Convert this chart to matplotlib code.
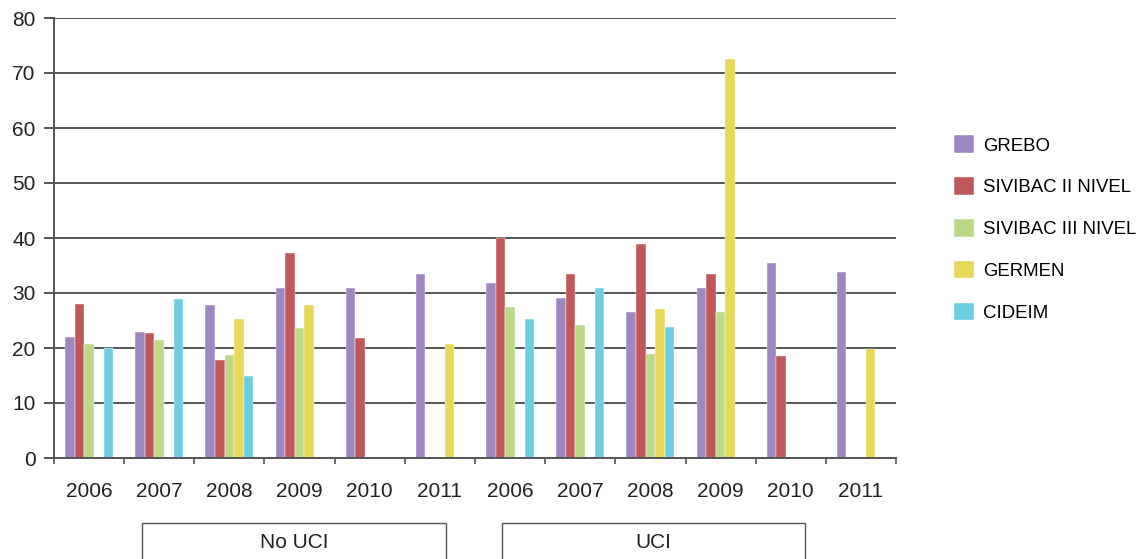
import matplotlib
matplotlib.use("Agg")
import matplotlib.pyplot as plt
import numpy as np
from matplotlib.patches import Rectangle

years = ["2006", "2007", "2008", "2009", "2010", "2011",
         "2006", "2007", "2008", "2009", "2010", "2011"]
groups = ["No UCI", "UCI"]
series_names = ["GREBO", "SIVIBAC II NIVEL", "SIVIBAC III NIVEL", "GERMEN", "CIDEIM"]
nan = np.nan
grebo = [22.0, 23.0, 27.8, 31.0, 31.0, 33.5, 31.9, 29.1, 26.5, 31.0, 35.5, 33.8]
sivibac2 = [28.0, 22.7, 17.9, 37.3, 21.8, nan, 40.0, 33.5, 38.9, 33.5, 18.5, nan]
sivibac3 = [20.7, 21.4, 18.8, 23.6, nan, nan, 27.5, 24.2, 18.9, 26.5, nan, nan]
germen = [nan, nan, 25.2, 27.8, nan, 20.7, nan, nan, 27.1, 72.5, nan, 19.9]
cideim = [20.0, 29.0, 15.0, nan, nan, nan, 25.2, 31.0, 23.9, nan, nan, nan]
yticks = [0, 10, 20, 30, 40, 50, 60, 70, 80]

colors = ["#9f88c2", "#c0575b", "#bbd987", "#e8d85a", "#6dcde2"]
all_series = [grebo, sivibac2, sivibac3, germen, cideim]

plt.rcParams['font.family'] = ['Liberation Sans', 'DejaVu Sans']
W, H = 1145, 559
fig = plt.figure(figsize=(W / 100, H / 100), dpi=100)
ax = fig.add_axes([54 / W, 1 - 458 / H, (896 - 54) / W, (458 - 18) / H])

x = np.arange(len(years))
bw = 0.137
for i, (vals, c, name) in enumerate(zip(all_series, colors, series_names)):
    ax.bar(x + (i - 2) * bw, vals, width=bw, color=c, label=name,
           edgecolor="white", linewidth=0.3, zorder=3)

gc = "#555555"
ax.set_ylim(0, 80)
ax.set_xlim(-0.5, len(years) - 0.5)
ax.set_yticks(yticks)
ax.yaxis.grid(True, color=gc, linewidth=1.4, zorder=1)
ax.set_axisbelow(True)
ax.tick_params(axis="y", length=7.2, width=1.4, color=gc, labelsize=15, pad=6,
               labelcolor="#222222")
ax.set_xticks(x)
ax.set_xticklabels(years)
ax.set_xticks(np.arange(-0.5, len(years)), minor=True)
ax.tick_params(axis="x", which="major", length=0, labelsize=15, pad=17,
               labelcolor="#222222")
ax.tick_params(axis="x", which="minor", length=4.5, width=1.2, color=gc,
               direction="out")
for s in ["top", "right"]:
    ax.spines[s].set_visible(False)
for s in ["left", "bottom"]:
    ax.spines[s].set_color(gc)
    ax.spines[s].set_linewidth(1.4)
ax.spines["bottom"].set_zorder(4)

# group boxes
boxes = [(142, 446), (502, 805)]
for (x0, x1), g in zip(boxes, groups):
    r = Rectangle((x0 / W, 0 - 5 / H), (x1 - x0) / W, (5 + 559 - 523) / H,
                  transform=fig.transFigure, fill=False, edgecolor="#555555",
                  linewidth=1.0, clip_on=False)
    fig.add_artist(r)
    fig.text((x0 + x1) / 2 / W, 1 - 543 / H, g, ha="center", va="center",
             fontsize=15, color="#222222")

fig.legend(loc="upper left", bbox_to_anchor=(947 / W, 1 - 128 / H),
           frameon=False, fontsize=13.4, handlelength=1.07, handleheight=1.07,
           handletextpad=0.45, labelspacing=1.22, borderaxespad=0)

fig.savefig("out.png", dpi=100)
